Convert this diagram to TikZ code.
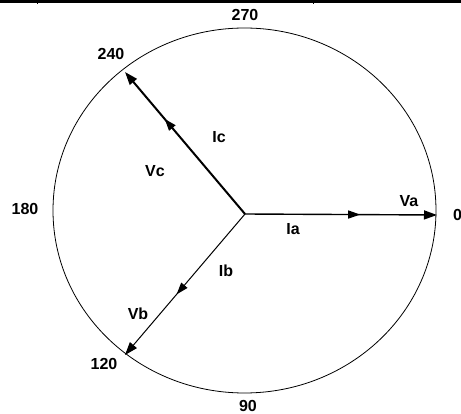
\documentclass[tikz,border=0pt]{standalone}
\usepackage{fontspec}
\setmainfont{Liberation Sans}
\usetikzlibrary{arrows.meta,decorations.markings}
\tikzset{
  lbl/.style={font=\bfseries\fontsize{16}{18}\selectfont, inner sep=0pt},
  tipA/.style={-{Triangle[length=13pt,width=9pt]}},
  midtip/.style={postaction={decorate},decoration={markings,
      mark=at position #1 with {\arrow{Triangle[length=12pt,width=8pt]}}}},
  phasor/.style={draw=black, line cap=butt}
}
\begin{document}
\begin{tikzpicture}[x=1pt,y=-1pt]
\useasboundingbox (0,0) rectangle (461,414);
% top rule with ticks
\fill[black] (0,0) rectangle (461,2.6);
\fill[black] (36.5,0) rectangle (37.8,4.2);
\fill[black] (312.5,0) rectangle (313.8,4.2);
% circle
\draw[line width=0.8pt] (244.5,210.5) ellipse [x radius=191.5, y radius=182.5];
% coordinates
\coordinate (O) at (245,214);
\coordinate (A) at (437,215);
\coordinate (C) at (125,72);
\coordinate (B) at (125,355);
% phasors
\draw[phasor, line width=1.4pt, tipA, midtip=0.6] (O) -- (A);
\draw[phasor, line width=2pt, tipA, midtip=0.67] (O) -- (C);
\draw[phasor, line width=1pt, tipA, midtip=0.57] (O) -- (B);
% labels
\node[lbl] (l270) at (245,15) {270};
\node[lbl] (l240) at (111,54) {240};
\node[lbl] (l180) at (25,209) {180};
\node[lbl] (l0) at (457.5,215) {0};
\node[lbl] (l120) at (104,364) {120};
\node[lbl] (l90) at (248,405.5) {90};
\node[lbl] (Va) at (409,201) {Va};
\node[lbl] (Ia) at (293,229) {Ia};
\node[lbl] (Ic) at (219,137) {Ic};
\node[lbl] (Vc) at (155,171) {Vc};
\node[lbl] (Ib) at (226,271) {Ib};
\node[lbl] (Vb) at (138,314) {Vb};
\end{tikzpicture}
\end{document}
